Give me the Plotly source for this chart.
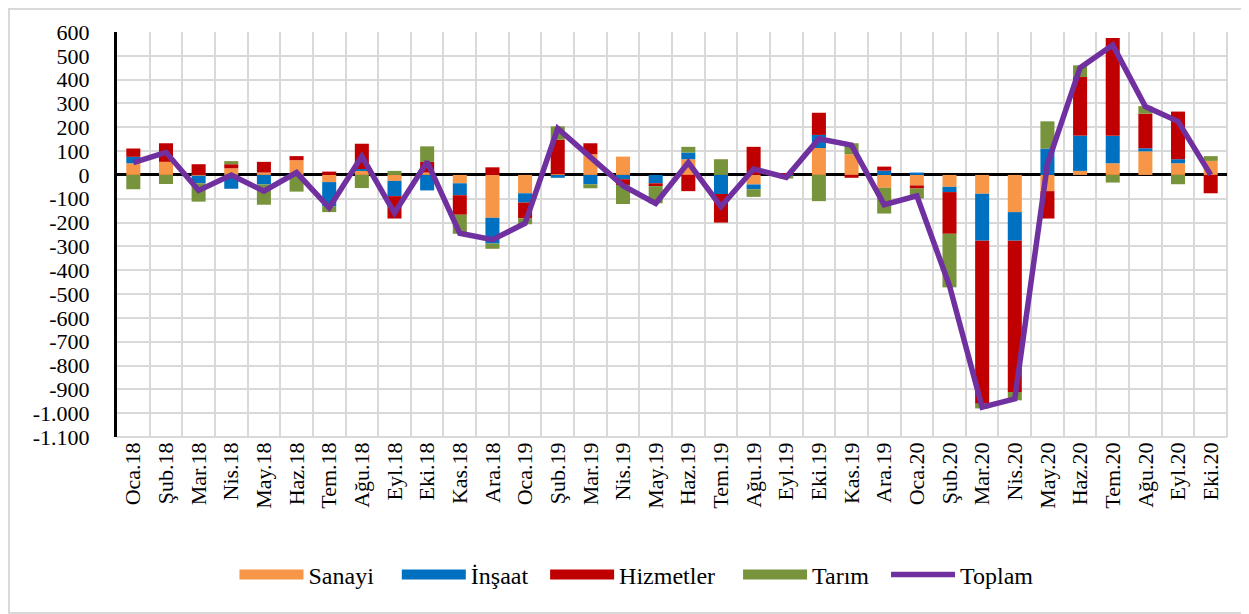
import plotly.graph_objects as go

months = ["Oca.18", "Şub.18", "Mar.18", "Nis.18", "May.18", "Haz.18", "Tem.18", "Ağu.18",
          "Eyl.18", "Eki.18", "Kas.18", "Ara.18", "Oca.19", "Şub.19", "Mar.19", "Nis.19",
          "May.19", "Haz.19", "Tem.19", "Ağu.19", "Eyl.19", "Eki.19", "Kas.19", "Ara.19",
          "Oca.20", "Şub.20", "Mar.20", "Nis.20", "May.20", "Haz.20", "Tem.20", "Ağu.20",
          "Eyl.20", "Eki.20"]

sanayi = [49, 55, -3, 28, 10, 62, -30, 20, -25, 10, -35, -180, -77, 3, 87, 77,
          0, 66, 0, -40, 3, 113, 87, -54, -44, -50, -79, -156, -68, 17, 49, 99, 49, 59]
insaat = [27, 0, -32, -58, -40, 0, -101, 5, -64, -65, -50, -108, -39, -12, -39, -18,
          -35, 28, -80, -20, -5, 55, 0, 18, 10, -22, -197, -120, 111, 148, 115, 13, 17, 0]
hizmetler = [35, 78, 45, 17, 45, 17, 14, 106, -94, 45, -82, 32, -66, 145, 46, -24,
             -12, -68, -120, 118, 2, 93, -12, 17, -13, -175, -684, -635, -115, 246, 411, 145, 200, -77]
tarim = [-60, -38, -77, 13, -85, -70, -25, -55, 17, 65, -80, -22, -25, 56, -17, -80,
         -72, 24, 66, -32, -10, -110, 46, -108, -42, -225, -20, -35, 114, 49, -32, 32, -39, 20]
toplam = [52, 95, -65, 0, -68, 10, -138, 78, -160, 55, -245, -272, -203, 195, 75, -45,
          -120, 52, -133, 25, -10, 152, 125, -125, -88, -465, -975, -940, 45, 450, 545, 287, 225, 0]

y_tickvals = [600, 500, 400, 300, 200, 100, 0, -100, -200, -300, -400, -500, -600,
              -700, -800, -900, -1000, -1100]
y_ticktext = ["600", "500", "400", "300", "200", "100", "0", "-100", "-200", "-300", "-400",
              "-500", "-600", "-700", "-800", "-900", "-1.000", "-1.100"]

series = [("Sanayi", sanayi, "#F79646", 3), ("İnşaat", insaat, "#0070C0", 2),
          ("Hizmetler", hizmetler, "#C00000", 3), ("Tarım", tarim, "#77933C", 2)]

x = list(range(len(months)))
FONT = "Liberation Serif, Times New Roman, serif"

W, H = 1249, 614
ML, MR, MT, MB = 109, 30, 24, 185
PW, PH = W - ML - MR, H - MT - MB

fig = go.Figure()
for name, vals, col, _ in series:
    fig.add_trace(go.Bar(x=x, y=vals, name=name, showlegend=False,
                         marker=dict(color=col, line=dict(width=0))))
fig.add_trace(go.Scatter(x=x, y=toplam, name="Toplam", mode="lines", showlegend=False,
                         line=dict(color="#7030A0", width=5.5)))
for name, vals, col, pad in series:
    fig.add_trace(go.Scatter(x=[None], y=[None], name=name + "\u00a0" * pad, mode="lines",
                             line=dict(color=col, width=16)))
fig.add_trace(go.Scatter(x=[None], y=[None], name="Toplam", mode="lines",
                         line=dict(color="#7030A0", width=5.5)))

fig.update_layout(
    width=W, height=H,
    barmode="relative", bargap=0.57,
    paper_bgcolor="white", plot_bgcolor="white",
    margin=dict(l=ML, r=MR, t=MT, b=MB),
    font=dict(family=FONT, size=20, color="black"),
    legend=dict(orientation="h", x=0.468, xanchor="center", y=-138 / PH, yanchor="middle",
                font=dict(family=FONT, size=24), itemwidth=64, traceorder="normal"),
    showlegend=True,
)
fig.update_xaxes(range=[-0.5, len(months) - 0.5], tickmode="array", tickvals=x, ticktext=months,
                 tickangle=-90, showgrid=False, zeroline=False, showline=False, ticks="",
                 tickfont=dict(family=FONT, size=22),
                 minor=dict(tick0=0.5, dtick=1, showgrid=True, gridcolor="#D9D9D9", gridwidth=2))
fig.update_yaxes(range=[-1100, 600], tickmode="array", tickvals=y_tickvals, ticktext=y_ticktext,
                 showgrid=True, gridcolor="#D9D9D9", gridwidth=2,
                 zeroline=True, zerolinecolor="black", zerolinewidth=3,
                 showline=True, linecolor="black", linewidth=3, ticks="",
                 ticklabelstandoff=20,
                 tickfont=dict(family=FONT, size=22))
fig.add_shape(type="line", xref="paper", yref="paper", x0=1, x1=1, y0=0, y1=1,
              line=dict(color="#D9D9D9", width=2), layer="below")
fig.add_shape(type="line", xref="paper", yref="paper", x0=0, x1=1, y0=0, y1=0,
              line=dict(color="#D9D9D9", width=2), layer="below")
fig.add_shape(type="rect", xref="paper", yref="paper",
              x0=-(ML - 1) / PW, x1=1 + (MR + 10) / PW,
              y0=-(H - 9 - (H - MB)) / PH, y1=1 + (MT - 1) / PH,
              line=dict(color="#D9D9D9", width=2))

fig.write_html("out.html")
